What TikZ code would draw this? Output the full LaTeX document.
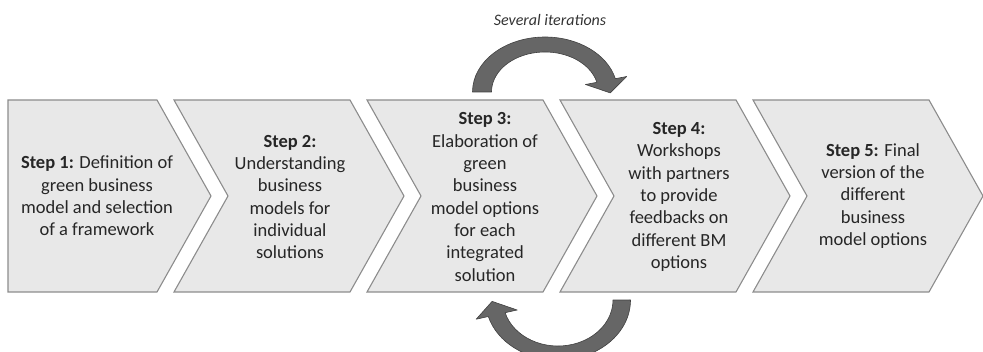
\documentclass[tikz,border=0pt]{standalone}
\usepackage{fontspec}
\setmainfont{Carlito}

\begin{document}
\begin{tikzpicture}[x=1pt, y=1pt]
    % Define styles
    \tikzset{
        chevron/.style={draw=black!45, fill=black!9, line width=1.1pt, line join=miter},
        steptext/.style={align=center, text=black!85, font=\fontsize{18.5}{22.3}\selectfont, inner sep=0pt},
        looparrow/.style={draw=black!75, fill=black!60, line width=0.6pt, line join=round},
        looplabel/.style={font=\fontsize{16}{19}\selectfont\itshape, text=black!80}
    }
    
    % Fix the canvas
    \useasboundingbox (0,0) rectangle (983,-352);
    
    % First chevron has a flat back
    \draw[chevron] (8,-100) -- (157,-100) -- (211,-196) -- (157,-292) -- (8,-292) -- cycle;
    
    % Remaining chevrons
    \foreach \i in {1,...,4} {
        \pgfmathsetmacro{\xl}{174+193*(\i-1)}
        \pgfmathsetmacro{\xr}{157+193*\i}
        \draw[chevron] (\xl,-100) -- (\xr,-100) -- ({\xr+54},-196) -- (\xr,-292)
            -- (\xl,-292) -- ({\xl+54},-196) -- cycle;
    }
    
    % Step texts
    \node[steptext] (step1) at (97,-196) {\textbf{Step 1:} Definition of\\green business\\model and selection\\of a framework};
    \node[steptext] (step2) at (290,-197) {\textbf{Step 2:}\\Understanding\\business\\models for\\individual\\solutions};
    \node[steptext] (step3) at (485,-197) {\textbf{Step 3:}\\Elaboration of\\green\\business\\model options\\for each\\integrated\\solution};
    \node[steptext] (step4) at (679,-197) {\textbf{Step 4:}\\Workshops\\with partners\\to provide\\feedbacks on\\different BM\\options};
    \node[steptext] (step5) at (873,-196) {\textbf{Step 5:} Final\\version of the\\different\\business\\model options};
    
    % Loop over the top, from step 3 to step 4
    \draw[looparrow] (472.5,-92) arc[start angle=180, end angle=14, x radius=72.5, y radius=55]
        -- (626.7,-76.5) -- (610.2,-92.9) -- (585.5,-84.5) -- (596.9,-82.3)
        arc[start angle=14, end angle=180, x radius=53.5, y radius=40] -- cycle;
    
    % Loop underneath, back from step 4 to step 3
    \draw[looparrow] (630.5,-300) arc[start angle=0, end angle=-164, x radius=72.5, y radius=60]
        -- (476.2,-319.2) -- (492.1,-301.4) -- (517.2,-310) -- (505.1,-312.7)
        arc[start angle=-164, end angle=0, x radius=55, y radius=46] -- cycle;
    
    \node[looplabel] (iter) at (550,-20) {Several iterations};
    
\end{tikzpicture}
\end{document}
